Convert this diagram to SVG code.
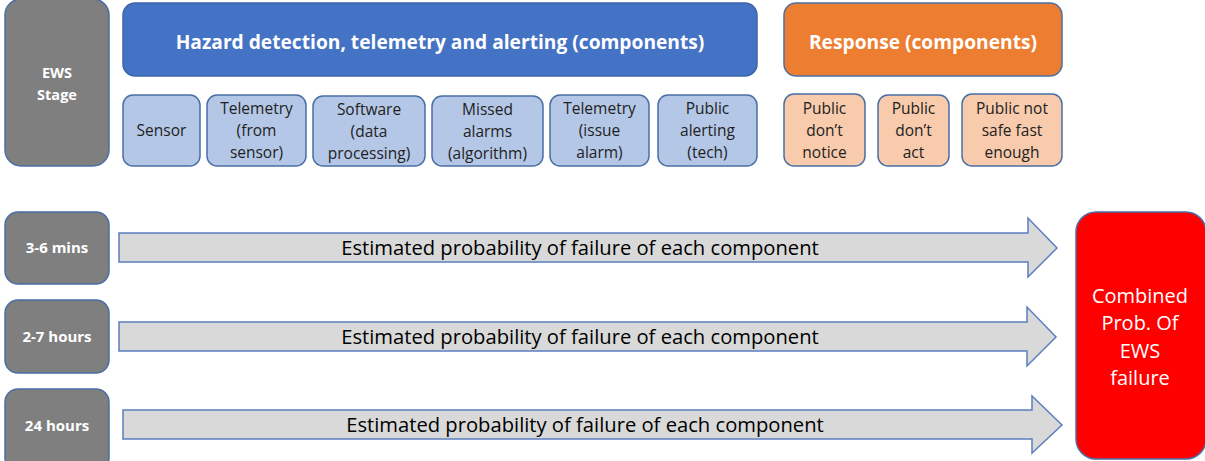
<svg xmlns="http://www.w3.org/2000/svg" width="1205" height="461" viewBox="0 0 1205 461">
<style>
.stage{fill:#7f7f7f;stroke:#4a6fa5;stroke-width:1.5}
.hdrB{fill:#4472c4;stroke:#3d65ad;stroke-width:1.5}
.hdrO{fill:#ed7d31;stroke:#4a6fa5;stroke-width:1.5}
.cb{fill:#b4c7e7;stroke:#4a6fa5;stroke-width:1.5}
.co{fill:#f8cbad;stroke:#4a6fa5;stroke-width:1.5}
.arr{fill:#d9d9d9;stroke:#5b7fbf;stroke-width:1.5}
.red{fill:#ff0000;stroke:#4a6fa5;stroke-width:1.5}
text{font-family:"Open Sans","Liberation Sans",sans-serif;text-anchor:middle}
.w{fill:#fff;font-weight:bold}
.t{fill:#222;font-size:15.5px}
.big{fill:#000;font-size:20.2px}
</style>
<g id="ews-stage">
<rect class="stage" x="5" y="-1" width="104" height="167" rx="16"/>
<text class="w" font-size="14.5" x="57" y="78">EWS</text>
<text class="w" font-size="14.5" x="57" y="100">Stage</text>
</g>
<g id="hazard-header">
<rect class="hdrB" x="123" y="3" width="634" height="73" rx="12"/>
<text class="w" font-size="19.2" x="440" y="49">Hazard detection, telemetry and alerting (components)</text>
</g>
<g id="response-header">
<rect class="hdrO" x="784" y="3" width="278" height="73" rx="12"/>
<text class="w" font-size="19.2" x="923" y="49">Response (components)</text>
</g>
<g id="sensor">
<rect class="cb" x="123" y="95" width="77" height="71" rx="10"/>
<text class="t" x="161.5" y="136">Sensor</text>
</g>
<g id="telemetry-sensor">
<rect class="cb" x="207" y="95" width="99" height="71" rx="10"/>
<text class="t" x="256.5" y="114">Telemetry</text>
<text class="t" x="256.5" y="136">(from</text>
<text class="t" x="256.5" y="158">sensor)</text>
</g>
<g id="software">
<rect class="cb" x="313" y="96" width="112" height="70" rx="10"/>
<text class="t" x="369" y="115">Software</text>
<text class="t" x="369" y="137">(data</text>
<text class="t" x="369" y="159">processing)</text>
</g>
<g id="missed-alarms">
<rect class="cb" x="432" y="96" width="111" height="70" rx="10"/>
<text class="t" x="487.5" y="115">Missed</text>
<text class="t" x="487.5" y="137">alarms</text>
<text class="t" x="487.5" y="159">(algorithm)</text>
</g>
<g id="telemetry-issue">
<rect class="cb" x="550" y="95" width="99" height="71" rx="10"/>
<text class="t" x="599.5" y="114">Telemetry</text>
<text class="t" x="599.5" y="136">(issue</text>
<text class="t" x="599.5" y="158">alarm)</text>
</g>
<g id="public-alerting">
<rect class="cb" x="658" y="95" width="99" height="71" rx="10"/>
<text class="t" x="707.5" y="114">Public</text>
<text class="t" x="707.5" y="136">alerting</text>
<text class="t" x="707.5" y="158">(tech)</text>
</g>
<g id="dont-notice">
<rect class="co" x="784" y="94" width="81" height="72" rx="10"/>
<text class="t" x="824.5" y="114">Public</text>
<text class="t" x="824.5" y="136">don’t</text>
<text class="t" x="824.5" y="158">notice</text>
</g>
<g id="dont-act">
<rect class="co" x="878" y="95" width="71" height="71" rx="10"/>
<text class="t" x="913.5" y="114">Public</text>
<text class="t" x="913.5" y="136">don’t</text>
<text class="t" x="913.5" y="158">act</text>
</g>
<g id="not-safe">
<rect class="co" x="962" y="94" width="100" height="72" rx="10"/>
<text class="t" x="1012" y="114">Public not</text>
<text class="t" x="1012" y="136">safe fast</text>
<text class="t" x="1012" y="158">enough</text>
</g>
<g id="stage-3-6">
<rect class="stage" x="5" y="212" width="104" height="72" rx="13"/>
<text class="w" font-size="15" x="57" y="253">3-6 mins</text>
</g>
<g id="stage-2-7">
<rect class="stage" x="5" y="300" width="104" height="73" rx="13"/>
<text class="w" font-size="15" x="57" y="342">2-7 hours</text>
</g>
<g id="stage-24">
<rect class="stage" x="5" y="389" width="104" height="82" rx="13"/>
<text class="w" font-size="15" x="57" y="431">24 hours</text>
</g>
<g id="combined">
<rect class="red" x="1076" y="212" width="130" height="247" rx="20"/>
<g fill="#fff" font-size="20">
<text x="1140" y="303">Combined</text>
<text x="1140" y="330">Prob. Of</text>
<text x="1140" y="358">EWS</text>
<text x="1140" y="385">failure</text>
</g>
</g>
<g id="connectors">
<path class="arr" d="M119,233 H1028 V218 L1057,248 L1028,277 V262 H119 Z"/>
<path class="arr" d="M119,322 H1027 V307 L1056,337 L1027,366 V351 H119 Z"/>
<path class="arr" d="M123,410 H1032 V396 L1062,425 L1032,453 V439 H123 Z"/>
<text class="big" x="580" y="255">Estimated probability of failure of each component</text>
<text class="big" x="580" y="344">Estimated probability of failure of each component</text>
<text class="big" x="585" y="432">Estimated probability of failure of each component</text>
</g>
</svg>
